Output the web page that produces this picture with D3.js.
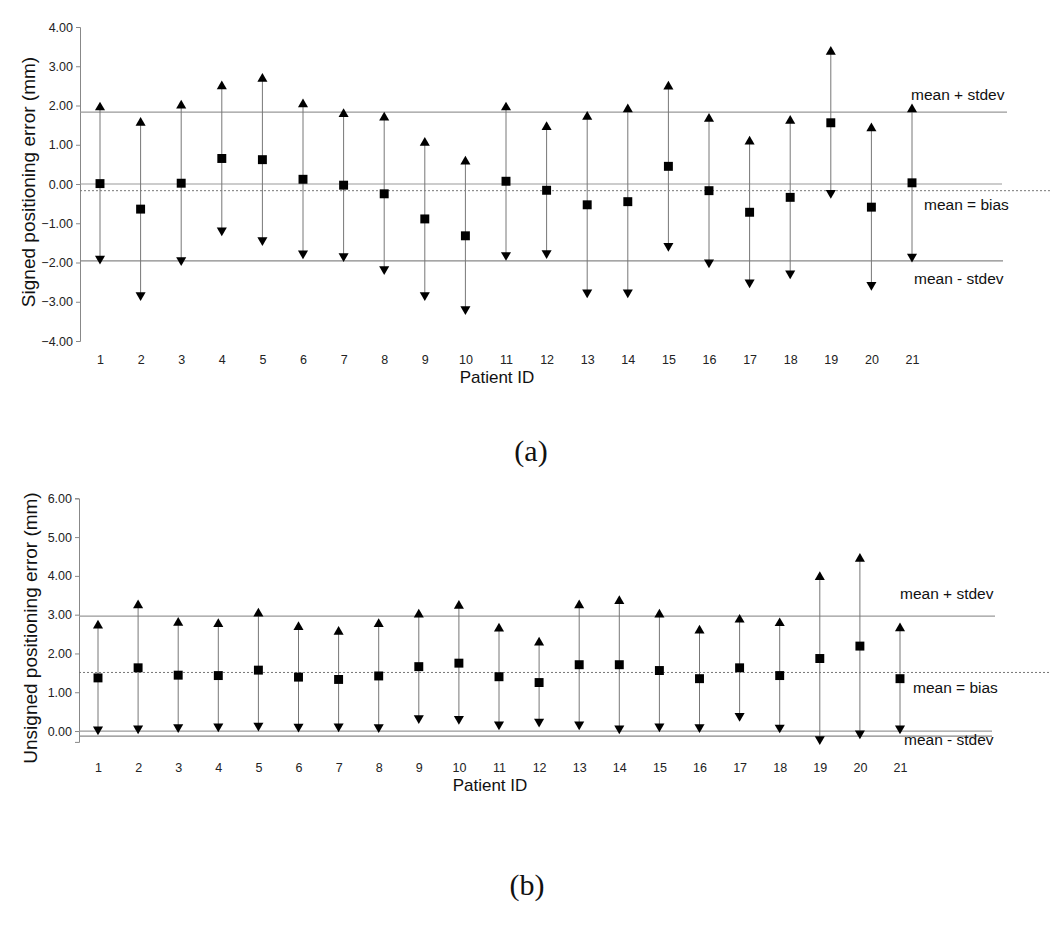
<!DOCTYPE html>
<html>
<head>
<meta charset="utf-8">
<script src="https://cdn.jsdelivr.net/npm/d3@7"></script>
<style>
  body { margin: 0; background: #fff; }
  svg { display: block; }
  .tick text { font-family: "Liberation Sans", Arial, sans-serif; fill: #222; }
</style>
</head>
<body>
<div id="figure"></div>
<script>
// patient ids on the x axis
var patients = d3.range(1, 22);

// (a) signed positioning error (mm)
var signedMean  = [0.01, -0.64, 0.02, 0.65, 0.62, 0.12, -0.03, -0.25, -0.89, -1.32, 0.07, -0.16, -0.53, -0.45, 0.45, -0.17, -0.72, -0.34, 1.56, -0.59, 0.03];
var signedUpper = [1.95, 1.56, 2.00, 2.49, 2.68, 2.03, 1.78, 1.69, 1.05, 0.57, 1.95, 1.45, 1.71, 1.90, 2.48, 1.66, 1.08, 1.61, 3.37, 1.42, 1.90];
var signedLower = [-1.90, -2.83, -1.94, -1.18, -1.43, -1.77, -1.84, -2.17, -2.83, -3.19, -1.81, -1.76, -2.76, -2.76, -1.58, -2.00, -2.51, -2.28, -0.23, -2.57, -1.85];
var signedTicks = [-4, -3, -2, -1, 0, 1, 2, 3, 4];
// mean + stdev, mean (bias), mean - stdev
var signedStats = [1.83, -0.17, -1.96];

// (b) unsigned positioning error (mm)
var unsignedMean  = [1.37, 1.63, 1.44, 1.43, 1.57, 1.39, 1.33, 1.42, 1.66, 1.75, 1.40, 1.25, 1.71, 1.71, 1.56, 1.35, 1.63, 1.43, 1.87, 2.19, 1.35];
var unsignedUpper = [2.72, 3.24, 2.79, 2.76, 3.03, 2.68, 2.56, 2.76, 3.00, 3.23, 2.64, 2.28, 3.24, 3.35, 3.00, 2.59, 2.87, 2.78, 3.97, 4.44, 2.65];
var unsignedLower = [0.04, 0.07, 0.10, 0.12, 0.14, 0.11, 0.12, 0.10, 0.33, 0.31, 0.17, 0.24, 0.17, 0.07, 0.12, 0.10, 0.39, 0.09, -0.21, -0.06, 0.07];
var unsignedTicks = [0, 1, 2, 3, 4, 5, 6];
var unsignedStats = [2.96, 1.51, -0.13];

var statLabels = ["mean + stdev", "mean = bias", "mean - stdev"];

var svg = d3.select("#figure").append("svg").attr("width", 1050).attr("height", 931);

function drawPanel(opt) {
    var g = svg.append("g");
    var x = d3.scaleLinear().domain([1, 21]).range(opt.xRange);
    var y = d3.scaleLinear().domain(opt.yDomain).range(opt.yRange);
    var axisX = opt.axisX;

    // y axis
    var yaxis = g.append("g").attr("transform", `translate(${axisX},0)`)
        .call(d3.axisLeft(y).tickValues(opt.ticks).tickFormat(d3.format(".2f")).tickSize(4).tickSizeOuter(4).tickPadding(3));
    yaxis.selectAll("path, line").attr("stroke", "#888");
    yaxis.selectAll("text").attr("font-size", "12.5px");

    // x tick labels only
    var xaxis = g.append("g").attr("transform", `translate(0,${opt.xLabelY})`)
        .call(d3.axisBottom(x).tickValues(patients).tickFormat(d3.format("d")).tickSize(0));
    xaxis.select(".domain").remove();
    xaxis.selectAll("text").attr("font-size", "12.5px");

    g.append("text").attr("x", opt.xTitle[0]).attr("y", opt.xTitle[1])
        .attr("text-anchor", "middle").attr("font-family", "Liberation Sans, Arial, sans-serif")
        .attr("font-size", "17px").attr("fill", "#111").text("Patient ID");

    g.append("text").attr("transform", `translate(${opt.yTitle[0]},${opt.yTitle[1]}) rotate(-90)`)
        .attr("text-anchor", "middle").attr("dy", "0.35em").attr("font-family", "Liberation Sans, Arial, sans-serif")
        .attr("font-size", "19px").attr("fill", "#111").text(opt.yLabel);

    // reference lines
    g.append("line").attr("x1", axisX).attr("x2", opt.zeroEnd).attr("y1", y(0)).attr("y2", y(0))
        .attr("stroke", "#999").attr("stroke-width", 1.2);
    g.append("line").attr("x1", axisX).attr("x2", opt.plusEnd).attr("y1", y(opt.stats[0])).attr("y2", y(opt.stats[0]))
        .attr("stroke", "#999").attr("stroke-width", 1.2);
    g.append("line").attr("x1", axisX).attr("x2", 1050).attr("y1", y(opt.stats[1])).attr("y2", y(opt.stats[1]))
        .attr("stroke", "#777").attr("stroke-width", 1).attr("stroke-dasharray", "2,2");
    g.append("line").attr("x1", axisX).attr("x2", opt.minusEnd).attr("y1", y(opt.stats[2])).attr("y2", y(opt.stats[2]))
        .attr("stroke", "#888").attr("stroke-width", 1.2);

    // stat labels
    opt.labelPos.forEach(function(p, i) {
        g.append("text").attr("x", p[0]).attr("y", y(opt.stats[i]) + p[1]).attr("dy", "0.35em")
            .attr("font-family", "Liberation Sans, Arial, sans-serif").attr("font-size", "15.5px")
            .attr("fill", "#111").text(statLabels[i]);
    });

    var rows = patients.map(function(p, i) {
        return {id: p, mean: opt.mean[i], upper: opt.upper[i], lower: opt.lower[i]};
    });

    // whiskers
    g.selectAll(".whisker").data(rows).enter().append("line").attr("class", "whisker")
        .attr("x1", d => x(d.id)).attr("x2", d => x(d.id))
        .attr("y1", d => y(d.upper)).attr("y2", d => y(d.lower))
        .attr("stroke", "#777").attr("stroke-width", 1);

    var tri = d3.symbol().type(d3.symbolTriangle).size(44);
    var sq = d3.symbol().type(d3.symbolSquare).size(80);

    g.selectAll(".up").data(rows).enter().append("path").attr("class", "up")
        .attr("d", tri).attr("fill", "#000")
        .attr("transform", d => `translate(${x(d.id)},${y(d.upper)})`);
    g.selectAll(".down").data(rows).enter().append("path").attr("class", "down")
        .attr("d", tri).attr("fill", "#000")
        .attr("transform", d => `translate(${x(d.id)},${y(d.lower)}) rotate(180)`);
    g.selectAll(".mean").data(rows).enter().append("path").attr("class", "mean")
        .attr("d", sq).attr("fill", "#000")
        .attr("transform", d => `translate(${x(d.id)},${y(d.mean)})`);
}

drawPanel({
    xRange: [100, 912], yDomain: [-4, 4], yRange: [341, 27], axisX: 80,
    ticks: signedTicks, xLabelY: 352, xTitle: [497, 383], yTitle: [28, 182],
    yLabel: "Signed positioning error (mm)",
    mean: signedMean, upper: signedUpper, lower: signedLower, stats: signedStats,
    zeroEnd: 1002, plusEnd: 1007, minusEnd: 1003,
    labelPos: [[911, -18], [924, 14], [914, 18]]
});

drawPanel({
    xRange: [98, 900], yDomain: [-0.28, 6], yRange: [741.9, 498.3], axisX: 79,
    ticks: unsignedTicks, xLabelY: 760, xTitle: [490, 791], yTitle: [30, 628],
    yLabel: "Unsigned positioning error (mm)",
    mean: unsignedMean, upper: unsignedUpper, lower: unsignedLower, stats: unsignedStats,
    zeroEnd: 992, plusEnd: 995, minusEnd: 992,
    labelPos: [[900, -23], [913, 15], [904, 3]]
});

// panel captions
svg.append("text").attr("x", 531).attr("y", 461).attr("text-anchor", "middle")
    .attr("font-family", "Liberation Serif, serif").attr("font-size", "30px").attr("fill", "#111").text("(a)");
svg.append("text").attr("x", 527).attr("y", 895).attr("text-anchor", "middle")
    .attr("font-family", "Liberation Serif, serif").attr("font-size", "30px").attr("fill", "#111").text("(b)");
</script>
</body>
</html>
